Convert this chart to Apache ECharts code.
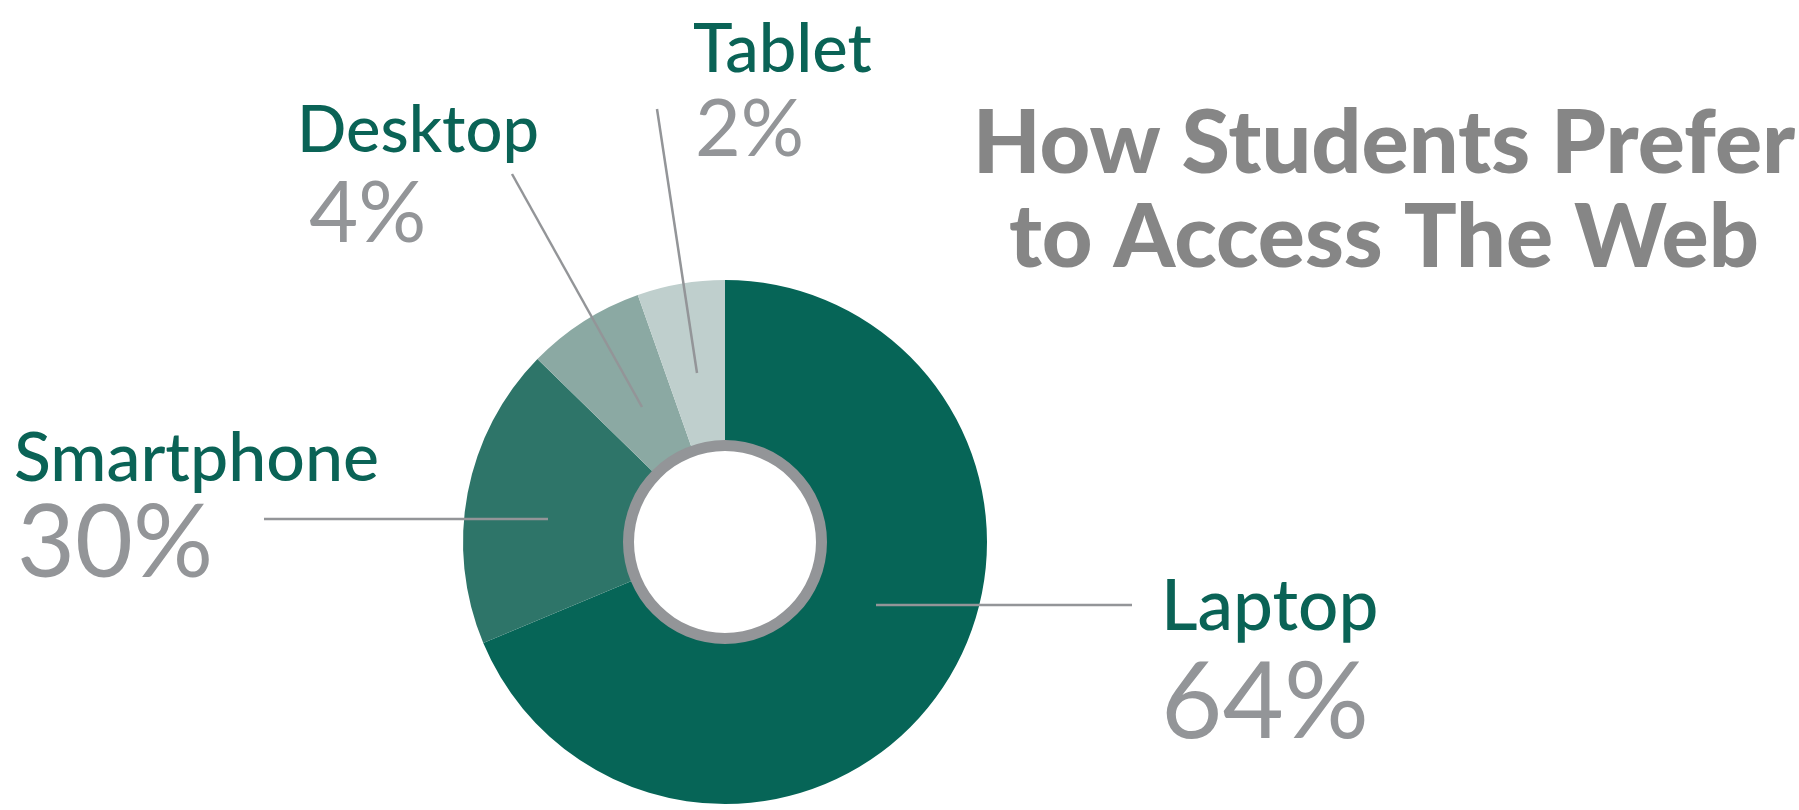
<!DOCTYPE html>
<html><head><meta charset="utf-8">
<script src="https://cdn.jsdelivr.net/npm/echarts@6/dist/echarts.min.js"></script>
<style>html,body{margin:0;padding:0;background:#fff}#c{width:1799px;height:810px}</style>
</head><body><div id="c"></div>
<script>
// ---- data ----
const categories = ['Laptop', 'Smartphone', 'Desktop', 'Tablet'];
// slice sizes as drawn in the picture (share of the circle, %)
const sliceShares = [68.7, 18.6, 7.3, 5.4];
// percentages printed on the labels
const printedPercents = [64, 30, 4, 2];
const titleLines = ['How Students Prefer', 'to Access The Web'];

// ---- styles / layout ----
const FONT = 'Lato';
const MID = 0.31; // line-centre to baseline offset (em)
const sliceColors = ['#066557', '#2e7569', '#8ba9a3', '#bfcfcd'];
const nameColor = '#0a6356';
const pctColor = '#939598';
const labelSpec = [
  {x: 1161, nameBase: 629, pctBase: 737, nameSize: 71, pctSize: 106, indent: 0},
  {x: 14,   nameBase: 480, pctBase: 576, nameSize: 68, pctSize: 100, indent: 3},
  {x: 297,  nameBase: 151, pctBase: 241, nameSize: 65, pctSize: 85,  indent: 12},
  {x: 693,  nameBase: 71,  pctBase: 155, nameSize: 67, pctSize: 79,  indent: 2}
];
const leaderLines = [
  [[876, 605], [1132, 605]],
  [[264, 519], [548, 519]],
  [[512, 174], [642, 407]],
  [[657, 109], [697, 373]]
];
const TITLE_SIZE = 88, TITLE_LH = 94, TITLE_BASE1 = 172;

const rich = {};
const labelPos = [];
labelSpec.forEach((s, i) => {
  const nameCenter = s.nameBase - MID * s.nameSize;
  const y = nameCenter - s.nameSize / 2;
  const Ln = s.nameSize;
  const pctCenter = s.pctBase - MID * s.pctSize;
  const Lp = 2 * (pctCenter - (y + Ln));
  rich['n' + i] = {fontFamily: FONT, fontSize: s.nameSize, lineHeight: Ln, color: nameColor, fontWeight: 500};
  rich['p' + i] = {fontFamily: FONT, fontSize: s.pctSize, lineHeight: Lp, color: pctColor, fontWeight: 400, padding: [0, 0, 0, s.indent]};
  labelPos.push({x: s.x, y: y});
});
const titleTop = TITLE_BASE1 - MID * TITLE_SIZE - TITLE_LH / 2;

const chart = echarts.init(document.getElementById('c'), null, {renderer: 'canvas'});
chart.setOption({
  backgroundColor: '#ffffff',
  animation: false,
  title: {
    text: titleLines.join('\n'),
    left: 1384, top: titleTop, textAlign: 'center', padding: 0,
    textStyle: {fontFamily: "'Lato Black', Lato", fontWeight: 900, fontSize: TITLE_SIZE, lineHeight: TITLE_LH, color: '#868686'}
  },
  graphic: leaderLines.map(p => ({
    type: 'line', z: 100, silent: true,
    shape: {x1: p[0][0], y1: p[0][1], x2: p[1][0], y2: p[1][1]},
    style: {stroke: '#939598', lineWidth: 2.5}
  })),
  series: [
    {
      type: 'pie',
      center: [725, 542],
      radius: [100, 262],
      startAngle: 90,
      clockwise: true,
      avoidLabelOverlap: false,
      silent: true,
      data: categories.map((c, i) => ({
        name: c, value: sliceShares[i],
        itemStyle: {color: sliceColors[i]}
      })),
      label: {
        show: true,
        position: 'outside',
        formatter: p => '{n' + p.dataIndex + '|' + p.name + '}\n{p' + p.dataIndex + '|' + printedPercents[p.dataIndex] + '%}',
        rich: rich
      },
      labelLine: {show: false},
      labelLayout: params => ({
        x: labelPos[params.dataIndex].x,
        y: labelPos[params.dataIndex].y,
        align: 'left',
        verticalAlign: 'top'
      })
    },
    {
      type: 'pie',
      center: [725, 542],
      radius: [91, 102],
      silent: true,
      label: {show: false},
      labelLine: {show: false},
      data: [{value: 1, name: 'ring', itemStyle: {color: '#939598'}}]
    }
  ]
});
</script>
</body></html>
